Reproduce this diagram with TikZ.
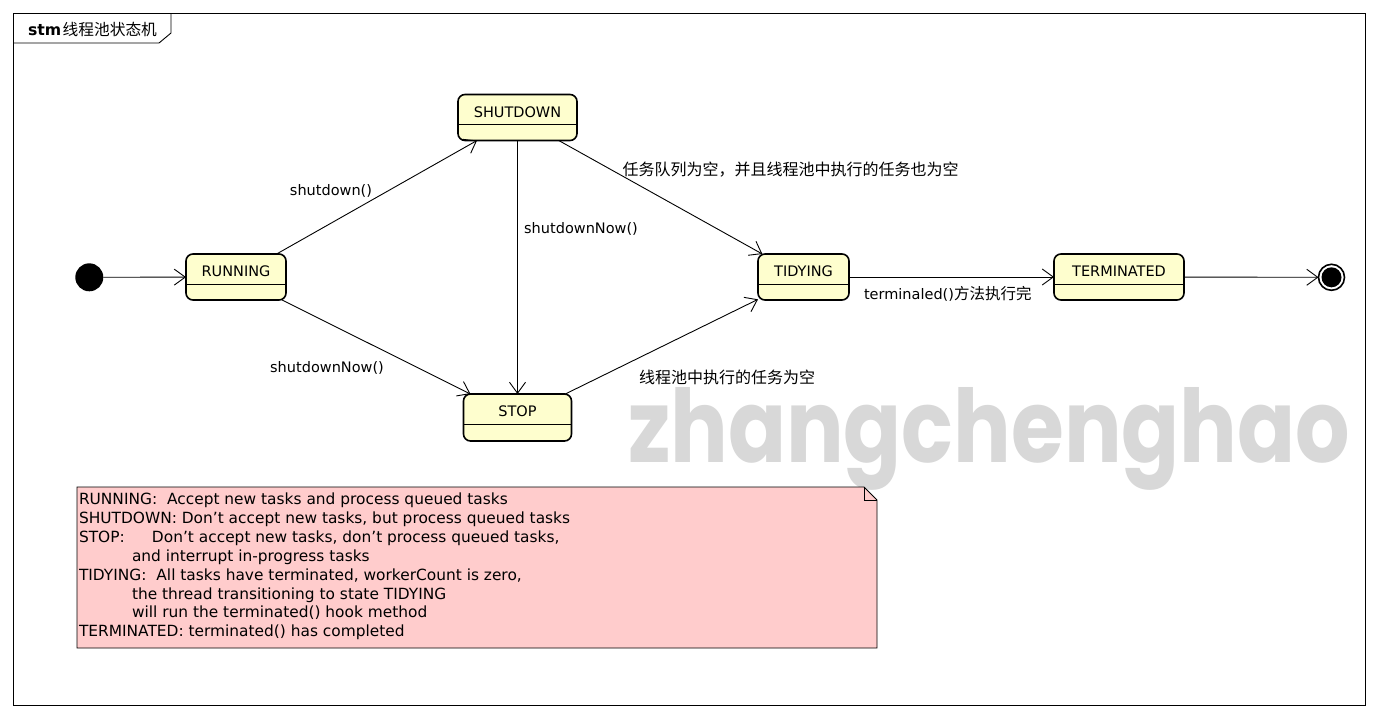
\documentclass[tikz,border=0pt]{standalone}
\usepackage{fontspec}
\setmainfont{DejaVu Sans}
\newfontfamily\cjkf{Noto Sans CJK SC}
\newfontfamily\wmf{Poppins}
\usetikzlibrary{arrows.meta}
\definecolor{statefill}{RGB}{254,254,206}
\definecolor{notefill}{RGB}{255,204,204}
\definecolor{wmgray}{RGB}{216,216,216}
\begin{document}
\begin{tikzpicture}[x=1pt,y=-1pt,
  every node/.style={inner sep=0pt, outer sep=0pt},
  state/.style={draw, line width=1.6pt, rounded corners=7pt, fill=statefill, minimum height=46pt},
  stlabel/.style={font=\fontsize{14.5}{17}\selectfont},
  elabel/.style={font=\fontsize{14.5}{17}\selectfont},
  zhlabel/.style={font=\fontsize{16}{18}\selectfont\cjkf},
  trans/.style={-{Straight Barb[length=11pt,width=16pt]}, line width=0.9pt},
  divider/.style={line width=0.8pt},
]
\useasboundingbox (0,0) rectangle (1377,718);
\fill[white] (0,0) rectangle (1377,718);

% watermark
\node[anchor=base west, text=wmgray, font=\wmf\bfseries] (wm) at (628,462) {\resizebox{722pt}{75pt}{zhangchenghao}};

% frame
\draw[line width=1pt] (13,13) rectangle (1365,705);
\draw[line width=0.9pt] (13,43) -- (159,43) -- (171,33) -- (171,13);
\node[anchor=west, font=\fontsize{15.7}{18}\selectfont] (title) at (28,30) {\textbf{stm}\hspace{1.5pt}{\cjkf 线程池状态机}};

% initial and final
\node[circle, fill=black, minimum size=28pt] (init) at (89.3,277.3) {};
\node[circle, draw, line width=1.6pt, fill=white, minimum size=26pt] (final) at (1331.5,277.3) {};
\fill[black] (final.center) circle (10pt);

% states
\node[state, minimum width=100pt] (run) at (236,277) {};
\node[stlabel] (runt) at ([yshift=-17.5pt]run.north) {RUNNING};
\draw[divider] ([yshift=-30pt]run.north west) -- ([yshift=-30pt]run.north east);

\node[state, minimum width=119pt] (shut) at (517.5,117.5) {};
\node[stlabel] (shutt) at ([yshift=-17.5pt]shut.north) {SHUTDOWN};
\draw[divider] ([yshift=-30pt]shut.north west) -- ([yshift=-30pt]shut.north east);

\node[state, minimum width=108pt, minimum height=47pt] (stop) at (517.5,417.5) {};
\node[stlabel] (stopt) at ([yshift=-17.5pt]stop.north) {STOP};
\draw[divider] ([yshift=-30pt]stop.north west) -- ([yshift=-30pt]stop.north east);

\node[state, minimum width=91pt] (tidy) at (803.5,277) {};
\node[stlabel] (tidyt) at ([yshift=-17.5pt]tidy.north) {TIDYING};
\draw[divider] ([yshift=-30pt]tidy.north west) -- ([yshift=-30pt]tidy.north east);

\node[state, minimum width=130pt] (term) at (1119,277) {};
\node[stlabel] (termt) at ([yshift=-17.5pt]term.north) {TERMINATED};
\draw[divider] ([yshift=-30pt]term.north west) -- ([yshift=-30pt]term.north east);

% transitions
\draw[trans] (init) -- (run);
\draw[trans] (run) -- (shut);
\draw[trans] (run) -- (stop);
\draw[trans] (shut.south) -- (stop.north);
\draw[trans] (shut) -- (tidy);
\draw[trans] (stop) -- (tidy);
\draw[trans] (tidy) -- (term);
\draw[trans] (term) -- (final);

% labels
\node[elabel] (l1) at (331,191) {shutdown()};
\node[elabel] (l2) at (327,368) {shutdownNow()};
\node[elabel] (l3) at (581,229) {shutdownNow()};
\node[zhlabel] (l4) at (790.5,170) {任务队列为空，并且线程池中执行的任务也为空};
\node[zhlabel] (l5) at (727,377) {线程池中执行的任务为空};
\node[elabel, anchor=west] (l6) at (864,294) {terminaled(){\cjkf\fontsize{15.5}{18}\selectfont 方法执行完}};

% note
\draw[line width=0.9pt, fill=notefill] (77,487) -- (864,487) -- (877,500) -- (877,648) -- (77,648) -- cycle;
\draw[line width=0.9pt] (864,487) -- (864,500) -- (877,500);
\node[anchor=north west, align=left, font=\fontsize{15.4}{18.86}\selectfont] (notetext) at (79,493) {%
RUNNING:\hspace{5pt} Accept new tasks and process queued tasks\\
SHUTDOWN: Don't accept new tasks, but process queued tasks\\
\makebox[73pt][l]{STOP:}Don't accept new tasks, don't process queued tasks,\\
\hspace*{53pt}and interrupt in-progress tasks\\
TIDYING:\hspace{5pt} All tasks have terminated, workerCount is zero,\\
\hspace*{53pt}the thread transitioning to state TIDYING\\
\hspace*{53pt}will run the terminated() hook method\\
TERMINATED: terminated() has completed};
\end{tikzpicture}
\end{document}
